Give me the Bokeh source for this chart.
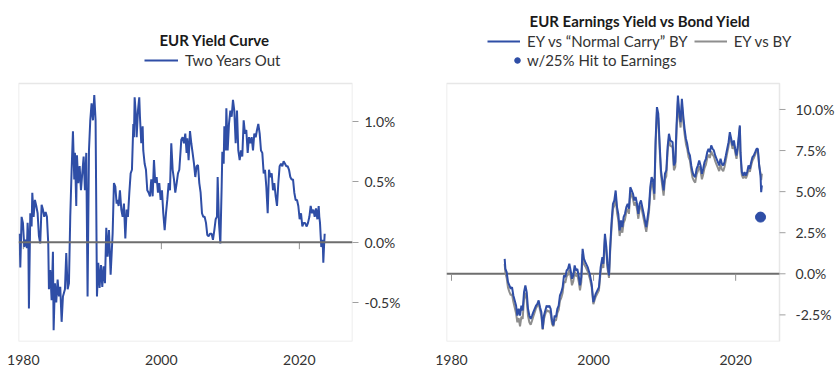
from bokeh.plotting import figure
from bokeh.models import (Range1d, FixedTicker, PrintfTickFormatter, Span, Legend,
                          LegendItem, Label, BoxAnnotation)
from bokeh.core.properties import value
from bokeh.layouts import row
from bokeh.embed import file_html
from bokeh.resources import INLINE

# ---------------- data ----------------
x_ticks = [1980, 2000, 2020]
yc_ticks = [-0.5, 0.0, 0.5, 1.0]
ey_ticks = [-2.5, 0.0, 2.5, 5.0, 7.5, 10.0]

yc_year = [1979.46, 1979.56, 1979.75, 1979.94, 1980.14, 1980.33, 1980.52, 1980.62, 1980.72, 1980.81,
           1981.01, 1981.20, 1981.30, 1981.49, 1981.68, 1981.88, 1982.07, 1982.26, 1982.45, 1982.65,
           1982.84, 1983.03, 1983.23, 1983.42, 1983.61, 1983.71, 1983.90, 1984.10, 1984.29, 1984.39,
           1984.58, 1984.77, 1984.97, 1985.16, 1985.35, 1985.55, 1985.74, 1986.03, 1986.22, 1986.42,
           1986.61, 1986.80, 1987.00, 1987.19, 1987.38, 1987.48, 1987.67, 1987.77, 1987.96, 1988.16,
           1988.35, 1988.54, 1988.74, 1988.93, 1989.12, 1989.31, 1989.51, 1989.70, 1989.89, 1990.09,
           1990.28, 1990.47, 1990.67, 1990.86, 1991.05, 1991.25, 1991.44, 1991.63, 1991.83, 1992.02,
           1992.21, 1992.41, 1992.65, 1992.94, 1993.13, 1993.33, 1993.52, 1993.62, 1993.81, 1994.00,
           1994.20, 1994.39, 1994.58, 1994.78, 1994.97, 1995.16, 1995.36, 1995.55, 1995.74, 1995.94,
           1996.03, 1996.13, 1996.32, 1996.42, 1996.61, 1996.80, 1996.90, 1997.09, 1997.29, 1997.38,
           1997.58, 1997.77, 1997.96, 1998.16, 1998.35, 1998.54, 1998.74, 1998.93, 1999.12, 1999.32,
           1999.51, 1999.70, 1999.90, 2000.09, 2000.28, 2000.48, 2000.67, 2000.86, 2001.06, 2001.25,
           2001.44, 2001.64, 2001.83, 2002.02, 2002.22, 2002.41, 2002.60, 2002.79, 2002.89, 2003.08,
           2003.28, 2003.47, 2003.66, 2003.76, 2003.95, 2004.15, 2004.34, 2004.53, 2004.73, 2004.92,
           2005.11, 2005.31, 2005.50, 2005.69, 2005.89, 2006.08, 2006.27, 2006.47, 2006.66, 2006.85,
           2007.05, 2007.29, 2007.48, 2007.68, 2007.87, 2008.06, 2008.16, 2008.35, 2008.55, 2008.74,
           2008.84, 2009.03, 2009.13, 2009.32, 2009.42, 2009.61, 2009.80, 2010.00, 2010.19, 2010.38,
           2010.57, 2010.77, 2010.96, 2011.15, 2011.35, 2011.54, 2011.73, 2011.93, 2012.12, 2012.31,
           2012.51, 2012.70, 2012.89, 2013.09, 2013.28, 2013.47, 2013.67, 2013.86, 2014.05, 2014.25,
           2014.44, 2014.63, 2014.83, 2015.02, 2015.21, 2015.41, 2015.60, 2015.79, 2015.99, 2016.18,
           2016.37, 2016.57, 2016.76, 2016.95, 2017.14, 2017.34, 2017.53, 2017.72, 2017.92, 2018.11,
           2018.30, 2018.50, 2018.69, 2018.88, 2019.08, 2019.27, 2019.46, 2019.66, 2019.85, 2020.04,
           2020.24, 2020.43, 2020.62, 2020.82, 2021.06, 2021.25, 2021.45, 2021.64, 2021.83, 2022.03,
           2022.22, 2022.41, 2022.61, 2022.80, 2022.89, 2022.99, 2023.09, 2023.18, 2023.38, 2023.47,
           2023.57, 2023.67]
yc_val = [0.07, -0.21, 0.21, 0.16, -0.04, 0.02, -0.05, 0.16, 0.05, -0.55,
          0.24, 0.13, 0.41, 0.21, 0.35, 0.30, 0.24, 0.05, -0.01, 0.31,
          0.27, 0.21, 0.25, 0.21, -0.01, -0.39, -0.23, -0.48, -0.08, -0.73,
          -0.34, -0.50, -0.31, -0.45, -0.37, -0.66, -0.45, -0.39, -0.09, -0.39,
          -0.34, 0.21, 0.60, 0.92, 0.52, 0.74, 0.30, 0.72, 0.49, 0.63,
          0.43, 0.57, 0.71, 0.43, 0.74, -0.45, 0.76, 1.01, 1.15, 1.01,
          1.22, 1.01, -0.45, -0.17, -0.38, -0.19, -0.37, -0.20, -0.34, 0.12,
          -0.12, 0.10, -0.27, 0.07, 0.49, 0.46, 0.32, 0.35, 0.30, 0.43,
          0.27, 0.21, 0.32, 0.03, 0.27, 0.21, 0.41, 0.57, 0.60, 0.98,
          0.87, 1.20, 1.04, 0.87, 1.09, 1.20, 1.04, 0.82, 0.96, 0.76,
          0.65, 0.60, 0.43, 0.41, 0.38, 0.52, 0.38, 0.68, 0.49, 0.54,
          0.41, 0.49, 0.35, 0.43, 0.24, 0.10, 0.24, 0.35, 0.49, 0.43,
          0.82, 0.60, 0.52, 0.41, 0.49, 0.57, 0.60, 0.76, 0.85, 0.87,
          0.82, 0.90, 0.74, 0.86, 0.68, 0.92, 0.82, 0.74, 0.65, 0.54,
          0.63, 0.64, 0.49, 0.41, 0.24, 0.21, 0.21, 0.16, 0.06, 0.05,
          0.07, 0.07, 0.02, 0.10, 0.19, 0.21, 0.54, 0.16, -0.01, 0.46,
          0.75, 0.65, 0.96, 0.76, 1.11, 0.76, 0.98, 1.09, 1.04, 1.18,
          1.09, 0.82, 1.09, 0.76, 0.68, 0.76, 0.71, 1.01, 0.90, 0.93,
          0.74, 0.87, 0.82, 0.87, 0.76, 0.90, 0.87, 0.93, 0.98, 0.90,
          0.76, 0.74, 0.57, 0.60, 0.46, 0.24, 0.60, 0.54, 0.57, 0.43,
          0.49, 0.38, 0.30, 0.49, 0.63, 0.65, 0.63, 0.67, 0.65, 0.63,
          0.63, 0.60, 0.54, 0.52, 0.52, 0.41, 0.35, 0.35, 0.30, 0.19,
          0.24, 0.13, 0.16, 0.16, 0.13, 0.16, 0.21, 0.30, 0.24, 0.27,
          0.21, 0.28, 0.19, 0.30, 0.21, 0.16, 0.05, -0.04, 0.02, -0.17,
          -0.04, 0.07]

ey_year = [1987.49, 1987.59, 1987.77, 1987.96, 1988.15, 1988.34, 1988.52, 1988.71, 1988.90, 1989.09,
           1989.27, 1989.46, 1989.65, 1989.84, 1990.02, 1990.21, 1990.40, 1990.59, 1990.77, 1990.96,
           1991.15, 1991.34, 1991.52, 1991.71, 1991.90, 1992.09, 1992.27, 1992.46, 1992.65, 1992.84,
           1993.02, 1993.21, 1993.40, 1993.59, 1993.77, 1993.96, 1994.15, 1994.34, 1994.52, 1994.71,
           1994.90, 1995.09, 1995.27, 1995.46, 1995.65, 1995.84, 1996.02, 1996.21, 1996.40, 1996.59,
           1996.77, 1996.96, 1997.15, 1997.34, 1997.52, 1997.71, 1997.90, 1998.09, 1998.27, 1998.46,
           1998.65, 1998.84, 1999.17, 1999.45, 1999.73, 1999.97, 2000.30, 2000.76, 2001.00, 2001.24,
           2001.38, 2001.60, 2001.80, 2001.95, 2002.17, 2002.36, 2002.55, 2002.73, 2002.92, 2003.11,
           2003.30, 2003.48, 2003.67, 2003.86, 2004.05, 2004.23, 2004.42, 2004.61, 2004.80, 2004.98,
           2005.17, 2005.36, 2005.55, 2005.73, 2005.92, 2006.11, 2006.30, 2006.48, 2006.67, 2006.86,
           2007.05, 2007.23, 2007.42, 2007.61, 2007.80, 2007.98, 2008.17, 2008.36, 2008.55, 2008.73,
           2008.92, 2009.11, 2009.30, 2009.49, 2009.67, 2009.86, 2010.05, 2010.24, 2010.42, 2010.61,
           2010.80, 2011.12, 2011.31, 2011.50, 2011.68, 2011.87, 2012.06, 2012.25, 2012.43, 2012.62,
           2012.81, 2013.00, 2013.18, 2013.37, 2013.56, 2013.75, 2013.93, 2014.12, 2014.31, 2014.50,
           2014.68, 2014.87, 2015.06, 2015.25, 2015.43, 2015.62, 2015.81, 2016.00, 2016.18, 2016.37,
           2016.56, 2016.75, 2016.93, 2017.12, 2017.31, 2017.50, 2017.68, 2017.87, 2018.06, 2018.25,
           2018.43, 2018.62, 2018.81, 2019.00, 2019.18, 2019.37, 2019.56, 2019.75, 2019.93, 2020.12,
           2020.31, 2020.59, 2020.68, 2020.87, 2021.06, 2021.25, 2021.44, 2021.62, 2021.81, 2022.00,
           2022.19, 2022.37, 2022.56, 2022.75, 2022.94, 2023.12, 2023.31, 2023.50, 2023.59, 2023.69]
ey_normal_carry = [0.91, 0.30, 0.10, -0.51, -0.71, -0.91, -0.81, -1.32, -1.62, -1.93,
                   -2.54, -2.13, -2.54, -1.93, -2.23, -1.12, -0.71, -1.12, -2.13, -2.54,
                   -2.74, -2.54, -2.33, -2.13, -1.93, -1.83, -1.62, -2.03, -2.33, -3.35,
                   -2.54, -2.23, -1.93, -2.03, -1.93, -2.13, -2.84, -3.14, -2.54, -2.64,
                   -2.13, -1.93, -1.32, -1.12, -0.81, -0.10, -0.20, 0.20, 0.30, 0.61,
                   0.20, -0.30, -0.10, 0.51, 0.20, 0.30, -0.10, -0.71, -0.20, 1.52,
                   0.91, 0.71, 0.41, 0.00, -0.60, -1.72, -1.22, -0.81, 0.41, 1.01,
                   0.61, 2.43, 1.62, 0.60, -0.10, 1.83, 3.25, 4.26, 4.46, 5.07,
                   4.06, 3.65, 2.64, 3.25, 2.84, 3.45, 3.65, 4.06, 4.26, 3.96,
                   5.27, 5.07, 4.87, 4.46, 4.67, 4.26, 3.65, 4.26, 4.46, 4.06,
                   3.65, 3.25, 2.84, 3.45, 4.06, 5.27, 5.88, 5.68, 4.87, 8.11,
                   10.14, 9.74, 7.91, 6.29, 5.68, 5.07, 6.09, 6.29, 7.71, 8.52,
                   8.11, 8.01, 6.59, 6.80, 9.03, 10.85, 9.84, 9.23, 10.65, 9.63,
                   8.82, 8.22, 7.91, 7.40, 7.20, 6.59, 6.19, 5.98, 5.88, 6.39,
                   6.59, 6.90, 6.59, 6.09, 6.39, 6.80, 7.00, 7.40, 7.61, 7.40,
                   7.81, 7.61, 7.51, 7.20, 7.00, 6.80, 6.59, 7.00, 6.69, 6.59,
                   6.80, 7.20, 7.61, 8.01, 8.62, 8.22, 7.81, 8.11, 7.61, 7.20,
                   7.81, 9.03, 7.40, 6.19, 5.98, 6.19, 5.98, 6.19, 6.59, 6.39,
                   6.80, 7.10, 7.20, 7.40, 7.61, 7.61, 6.59, 5.98, 4.97, 5.38]
ey_vs_by = [0.60, 0.05, -0.25, -0.85, -1.10, -1.30, -1.25, -1.70, -2.05, -2.40,
            -2.95, -2.70, -3.20, -2.60, -2.75, -1.55, -1.15, -1.60, -2.55, -2.95,
            -3.10, -2.85, -2.60, -2.35, -2.10, -1.95, -1.75, -2.20, -2.55, -3.40,
            -2.75, -2.45, -2.20, -2.30, -2.25, -2.45, -3.05, -3.20, -2.80, -2.85,
            -2.40, -2.20, -1.65, -1.45, -1.15, -0.45, -0.55, -0.15, -0.05, 0.25,
            -0.15, -0.70, -0.45, 0.15, -0.15, -0.05, -0.45, -1.00, -0.50, 1.20,
            0.60, 0.45, 0.15, -0.25, -0.80, -1.85, -1.40, -1.00, 0.15, 0.75,
            0.35, 2.15, 1.35, 0.35, -0.25, 1.55, 2.95, 3.95, 4.15, 4.75,
            3.70, 3.30, 2.30, 2.90, 2.50, 3.10, 3.30, 3.75, 3.95, 3.65,
            4.95, 4.75, 4.55, 4.15, 4.35, 3.95, 3.35, 3.95, 4.15, 3.75,
            3.35, 2.95, 2.55, 3.15, 3.75, 4.95, 5.55, 5.35, 4.50, 7.80,
            9.85, 9.45, 7.60, 6.00, 5.35, 4.75, 5.75, 5.95, 7.40, 8.20,
            7.80, 7.70, 6.30, 6.50, 8.70, 10.50, 9.50, 8.90, 10.30, 9.30,
            8.50, 7.90, 7.60, 7.10, 6.90, 6.30, 5.85, 5.65, 5.55, 6.05,
            6.25, 6.55, 6.25, 5.75, 6.05, 6.45, 6.65, 7.05, 7.25, 7.05,
            7.45, 7.25, 7.15, 6.85, 6.65, 6.45, 6.25, 6.65, 6.35, 6.25,
            6.50, 6.90, 7.35, 7.75, 8.40, 8.00, 7.60, 7.90, 7.40, 7.00,
            7.60, 8.95, 7.20, 6.00, 5.80, 6.00, 5.80, 6.00, 6.40, 6.20,
            6.60, 6.90, 7.05, 7.25, 7.50, 7.55, 6.60, 6.10, 5.70, 6.10]
hit_year = [2023.5]
hit_val = [3.45]

# ---------------- style ----------------
FONT = "Lato"
BLUE = "#2F4EA6"
GREY = "#8E8E8E"
ZERO = "#6E6E6E"
FRAME = "#B0B0B0"
TXT = "#333333"
TICK = "#A0A0A0"
BOX_H = 258      # visible plot box height (px)
HEAD = 83        # header space above the plot box (px)
TICK_PX = 6
LABEL_GAP = 16   # box edge -> start of y tick label (px)


def make_fig(xr, yr, box_w, mbl, mbr, yticks, std, own_yaxis=False, extra_w=0):
    """Frame extends up over the header (and optionally right); the visible
    plot box is drawn as an annotation."""
    per_py = (yr[1] - yr[0]) / BOX_H
    per_px = (xr[1] - xr[0]) / box_w
    y_top = yr[1] + HEAD * per_py
    x_end = xr[1] + extra_w * per_px
    p = figure(frame_width=box_w + extra_w, frame_height=BOX_H + HEAD,
               x_range=Range1d(xr[0], x_end), y_range=Range1d(yr[0], y_top),
               output_backend="svg", toolbar_location=None,
               y_axis_location=None if own_yaxis else "right",
               min_border_left=mbl, min_border_right=mbr, min_border_top=0,
               min_border_bottom=10)
    p.grid.visible = False
    p.outline_line_color = None
    p.background_fill_color = "white"
    p.border_fill_color = "white"
    p.add_layout(BoxAnnotation(left=xr[0], right=xr[1], bottom=yr[0], top=yr[1],
                               fill_color=None, line_color=FRAME, line_width=1.5))
    xa = p.xaxis[0]
    xa.ticker = FixedTicker(ticks=x_ticks)
    xa.axis_line_color = None
    xa.major_tick_out = 0
    xa.major_tick_in = 0
    xa.minor_tick_line_color = None
    xa.major_label_standoff = 13
    xa.major_label_text_font = FONT
    xa.major_label_text_font_size = "14px"
    xa.major_label_text_color = TXT
    if own_yaxis:
        # y ticks and labels drawn next to the box edge
        n = len(yticks)
        p.segment(x0=[xr[1]] * n, y0=yticks, x1=[xr[1] + TICK_PX * per_px] * n, y1=yticks,
                  line_color=TICK, line_width=1)
        p.text(x=[xr[1]] * n, y=yticks, text=[f"{t:.1f}%" for t in yticks],
               x_offset=LABEL_GAP, text_align="left", text_baseline="middle",
               text_font=value(FONT), text_font_size="14px", text_color=TXT)
        p.segment(x0=[xr[0]], y0=[0], x1=[xr[1]], y1=[0], line_color=ZERO, line_width=2)
    else:
        ya = p.yaxis[0]
        ya.ticker = FixedTicker(ticks=yticks)
        ya.formatter = PrintfTickFormatter(format="%.1f%%")
        ya.axis_line_color = None
        ya.major_tick_out = TICK_PX
        ya.major_tick_in = 0
        ya.major_tick_line_color = TICK
        ya.minor_tick_line_color = None
        ya.major_label_standoff = std
        ya.major_label_text_font = FONT
        ya.major_label_text_font_size = "14px"
        ya.major_label_text_color = TXT
        p.add_layout(Span(location=0, dimension="width", line_color=ZERO, line_width=2))
    # small x tick marks hanging from the zero line
    tick_len = 7 * per_py
    p.segment(x0=x_ticks, y0=[0] * len(x_ticks), x1=x_ticks, y1=[-tick_len] * len(x_ticks),
              line_color="#909090", line_width=1)
    return p


def title_label(text, x, y):
    return Label(x=x, y=y, x_units="screen", y_units="screen", text=text,
                 text_align="center", text_baseline="alphabetic", text_font=FONT,
                 text_font_size="15px", text_font_style="bold", text_color="#1A1A1A")


def legend_style(lg, gw, std, spacing=0):
    lg.orientation = "horizontal"
    lg.margin = 0
    lg.padding = 0
    lg.spacing = spacing
    lg.glyph_width = gw
    lg.glyph_height = 16
    lg.label_height = 16
    lg.label_standoff = std
    lg.label_text_font = FONT
    lg.label_text_font_size = "15px"
    lg.label_text_color = TXT
    lg.background_fill_alpha = 0
    lg.border_line_alpha = 0
    return lg


# ---------------- left chart ----------------
p1 = make_fig((1979.3, 2027.7), (-0.823, 1.315), 334, 18, 64, yc_ticks, 6)
r1 = p1.line(yc_year, yc_val, line_color=BLUE, line_width=2)
lg1 = Legend(items=[LegendItem(label="Two Years Out", renderers=[r1])], location=(126, 272))
p1.add_layout(legend_style(lg1, 34, 7))
p1.add_layout(title_label("EUR Yield Curve", 196, 302))

# ---------------- right chart ----------------
p2 = make_fig((1979.3, 2026.17), (-4.12, 11.58), 333, 30, 0, ey_ticks, 10,
              own_yaxis=True, extra_w=61)
r_grey = p2.line(ey_year, ey_vs_by, line_color=GREY, line_width=2)
r_blue = p2.line(ey_year, ey_normal_carry, line_color=BLUE, line_width=2)
r_dot = p2.scatter(hit_year, hit_val, size=10, color=BLUE)
lg2 = Legend(items=[LegendItem(label="EY vs \u201cNormal Carry\u201d BY", renderers=[r_blue]),
                    LegendItem(label="EY vs BY", renderers=[r_grey])], location=(41, 291))
p2.add_layout(legend_style(lg2, 33, 7, spacing=6))
lg3 = Legend(items=[LegendItem(label="w/25% Hit to Earnings", renderers=[r_dot])], location=(64, 272))
p2.add_layout(legend_style(lg3, 14, 3))
p2.add_layout(title_label("EUR Earnings Yield vs Bond Yield", 194, 321))

layout = row(p1, p2)
open("out.html", "w").write(file_html(layout, INLINE))
